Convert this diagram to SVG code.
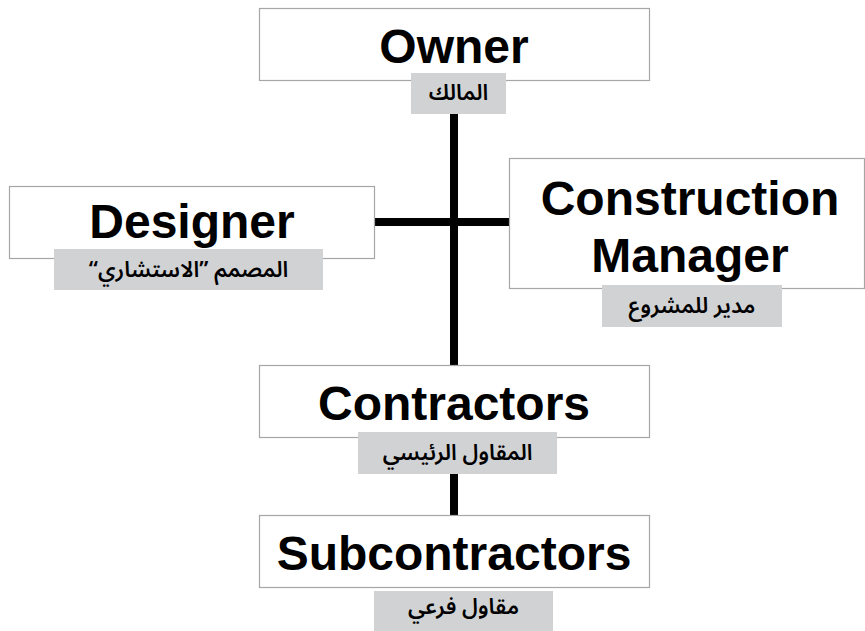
<svg xmlns="http://www.w3.org/2000/svg" width="865" height="631" viewBox="0 0 865 631">
  <style>
    .box { fill: #ffffff; stroke: #a6a6a6; stroke-width: 1.2; }
    .tag { fill: #d1d2d4; }
    .title { font-family: "Liberation Sans", Arial, sans-serif; font-weight: bold; font-size: 48px; fill: #000; text-anchor: middle; }
    .ar { font-family: "Noto Sans Arabic", "DejaVu Sans", "Noto Sans", sans-serif; font-size: 22px; font-weight: 600; fill: #000; text-anchor: middle; }
    .link { stroke: #000; stroke-width: 8; fill: none; }
  </style>

  <rect width="865" height="631" fill="#ffffff"/>

  <!-- connectors -->
  <g id="connectors">
    <line class="link" x1="454" y1="112" x2="454" y2="366"/>
    <line class="link" x1="374" y1="222" x2="510" y2="222"/>
    <line class="link" x1="454" y1="472" x2="454" y2="516"/>
  </g>

  <g id="owner">
    <rect class="box" x="259.5" y="8.5" width="390" height="72"/>
    <text class="title" x="454" y="63">Owner</text>
    <rect class="tag" x="411" y="73" width="95" height="41"/>
    <text class="ar" x="458.5" y="100" direction="rtl">المالك</text>
  </g>

  <g id="designer">
    <rect class="box" x="9.5" y="186.5" width="365" height="72"/>
    <text class="title" x="192" y="238">Designer</text>
    <rect class="tag" x="54" y="249" width="269" height="41"/>
    <text class="ar" x="188.5" y="277" direction="rtl">المصمم ”الاستشاري“</text>
  </g>

  <g id="construction-manager">
    <rect class="box" x="509.5" y="158.5" width="355" height="130"/>
    <text class="title" x="690" y="215">Construction</text>
    <text class="title" x="690" y="272">Manager</text>
    <rect class="tag" x="602" y="285" width="180" height="42"/>
    <text class="ar" x="692" y="313" direction="rtl">مدير للمشروع</text>
  </g>

  <g id="contractors">
    <rect class="box" x="259.5" y="365.5" width="390" height="72"/>
    <text class="title" x="454" y="420">Contractors</text>
    <rect class="tag" x="358" y="432" width="199" height="42"/>
    <text class="ar" x="457.5" y="460" direction="rtl">المقاول الرئيسي</text>
  </g>

  <g id="subcontractors">
    <rect class="box" x="259.5" y="515.5" width="390" height="72"/>
    <text class="title" x="454" y="570">Subcontractors</text>
    <rect class="tag" x="374" y="591" width="179" height="40"/>
    <text class="ar" x="463.5" y="614" direction="rtl">مقاول فرعي</text>
  </g>
</svg>
